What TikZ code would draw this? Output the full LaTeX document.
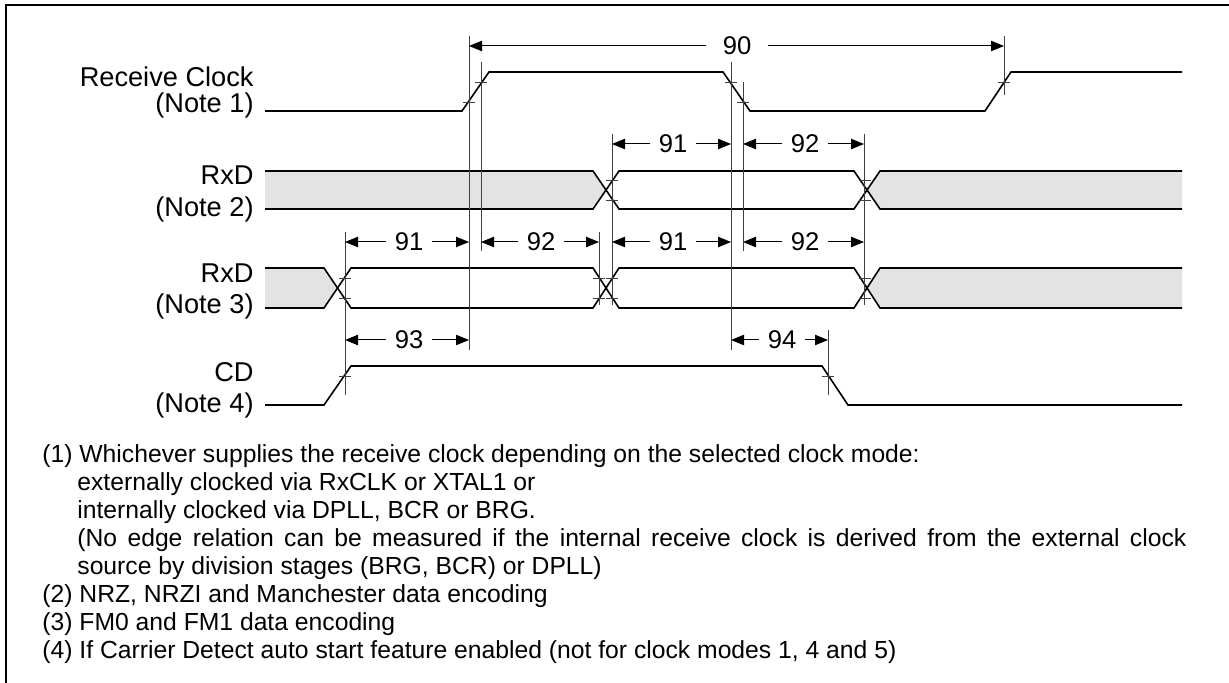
\documentclass[tikz,border=0pt]{standalone}
\usepackage{fontspec}
\setmainfont{Liberation Sans}
\usetikzlibrary{arrows.meta, positioning}

\begin{document}
\begin{tikzpicture}[
    x=0.5pt, y=-0.5pt,
    sig/.style={line width=0.8pt, line join=miter},
    ref/.style={line width=0.45pt, black!75},
    tck/.style={line width=0.45pt, black!75},
    dim/.style={-{Triangle[length=6.5pt,width=5.2pt]}, line width=0.5pt},
    shade/.style={fill=black!11},
    lbl/.style={anchor=base east, inner sep=0pt,
                font=\fontsize{13.6pt}{15pt}\selectfont},
    num/.style={inner xsep=4pt, inner ysep=2pt,
                font=\fontsize{12.8pt}{14pt}\selectfont},
    note/.style={anchor=base west, inner sep=0pt,
                 font=\fontsize{12.35pt}{14pt}\selectfont}
]
\useasboundingbox (0,0) rectangle (1229,683);

% Frame
\draw[line width=1pt] (6,683) -- (6,5) -- (1229,5);

% Signal names
\node[lbl] (lclk)  at (254, 87) {Receive Clock};
\node[lbl] (lclkn) at (254,113) {(Note 1)};
\node[lbl] (lrx2)  at (254,185) {RxD};
\node[lbl] (lrx2n) at (254,217) {(Note 2)};
\node[lbl] (lrx3)  at (254,283) {RxD};
\node[lbl] (lrx3n) at (254,314) {(Note 3)};
\node[lbl] (lcd)   at (254,381) {CD};
\node[lbl] (lcdn)  at (254,413) {(Note 4)};

% Receive clock
\draw[sig] (265,111) -- (462,111) -- (489,72) -- (723,72) -- (750,111)
           -- (985,111) -- (1011,72) -- (1182,72);

% RxD (Note 2)
\fill[shade] (265,171) -- (593,171) -- (606,190) -- (593,209) -- (265,209) -- cycle;
\fill[shade] (1182,171) -- (880,171) -- (867,190) -- (880,209) -- (1182,209) -- cycle;
\draw[sig] (265,171) -- (593,171) -- (619,209) -- (854,209) -- (880,171) -- (1182,171);
\draw[sig] (265,209) -- (593,209) -- (619,171) -- (854,171) -- (880,209) -- (1182,209);

% RxD (Note 3)
\fill[shade] (265,268) -- (324,268) -- (338,288) -- (324,308) -- (265,308) -- cycle;
\fill[shade] (1182,268) -- (880,268) -- (867,288) -- (880,308) -- (1182,308) -- cycle;
\draw[sig] (265,268) -- (324,268) -- (351,308) -- (593,308) -- (619,268)
           -- (854,268) -- (880,308) -- (1182,308);
\draw[sig] (265,308) -- (324,308) -- (351,268) -- (593,268) -- (619,308)
           -- (854,308) -- (880,268) -- (1182,268);

% CD
\draw[sig] (265,405) -- (324,405) -- (351,366) -- (822,366) -- (848,405) -- (1182,405);

% Reference lines
\foreach \n/\x/\ya/\yb in {ckra/469/36/350, ckrb/481/62/251, ckfa/731/62/350,
    ckfb/743/82/251, ckrc/1004/36/95, rxa/612/134/305, rxb/864/134/305,
    rxc/599/232/305, rxd/345/232/395, cdf/828/330/395}{
  \coordinate (\n) at (\x,\ya);
  \draw[ref] (\n) -- (\x,\yb);
}

% Edge ticks
\foreach \x/\y in {469/102, 481/82, 731/82, 743/102, 1004/82,
    612/180, 612/200, 865/180, 865/200,
    345/278, 345/298, 599/278, 599/298, 612/278, 612/298, 865/278, 865/298,
    345/376, 828/376}
  \draw[tck] (\x-6,\y) -- (\x+6,\y);

% Timing 90
\node[num, inner xsep=8pt] (d90) at (737,46) {90};
\draw[dim] (d90) -- (d90 -| ckra);
\draw[dim] (d90) -- (d90 -| ckrc);

% Timings 91/92, RxD (Note 2)
\node[num] (d91a) at (673,144) {91};
\draw[dim] (d91a) -- (d91a -| rxa);
\draw[dim] (d91a) -- (d91a -| ckfa);
\node[num] (d92a) at (805,144) {92};
\draw[dim] (d92a) -- (d92a -| ckfb);
\draw[dim] (d92a) -- (d92a -| rxb);

% Timings 91/92, RxD (Note 3)
\node[num] (d91b) at (409,242) {91};
\draw[dim] (d91b) -- (d91b -| rxd);
\draw[dim] (d91b) -- (d91b -| ckra);
\node[num] (d92b) at (541,242) {92};
\draw[dim] (d92b) -- (d92b -| ckrb);
\draw[dim] (d92b) -- (d92b -| rxc);
\node[num] (d91c) at (673,242) {91};
\draw[dim] (d91c) -- (d91c -| rxa);
\draw[dim] (d91c) -- (d91c -| ckfa);
\node[num] (d92c) at (805,242) {92};
\draw[dim] (d92c) -- (d92c -| ckfb);
\draw[dim] (d92c) -- (d92c -| rxb);

% Timings 93/94, CD
\node[num] (d93) at (409,340) {93};
\draw[dim] (d93) -- (d93 -| rxd);
\draw[dim] (d93) -- (d93 -| ckra);
\node[num] (d94) at (782,340) {94};
\draw[dim] (d94) -- (d94 -| ckfa);
\draw[dim] (d94) -- (d94 -| cdf);

% Notes
\node[note] (n1a) at (42,462) {(1) Whichever supplies the receive clock depending on the selected clock mode:};
\node[note] (n1b) at (77,490) {externally clocked via RxCLK or XTAL1 or};
\node[note] (n1c) at (77,518) {internally clocked via DPLL, BCR or BRG.};
\node[note] (n1d) at (77,546) {\makebox[554.5pt][s]{(No edge relation can be measured if the internal receive clock is derived from the external clock}};
\node[note] (n1e) at (77,574) {source by division stages (BRG, BCR) or DPLL)};
\node[note] (n2)  at (42,602) {(2) NRZ, NRZI and Manchester data encoding};
\node[note] (n3)  at (42,630) {(3) FM0 and FM1 data encoding};
\node[note] (n4)  at (42,658) {(4) If Carrier Detect auto start feature enabled (not for clock modes 1, 4 and 5)};

\end{tikzpicture}
\end{document}
